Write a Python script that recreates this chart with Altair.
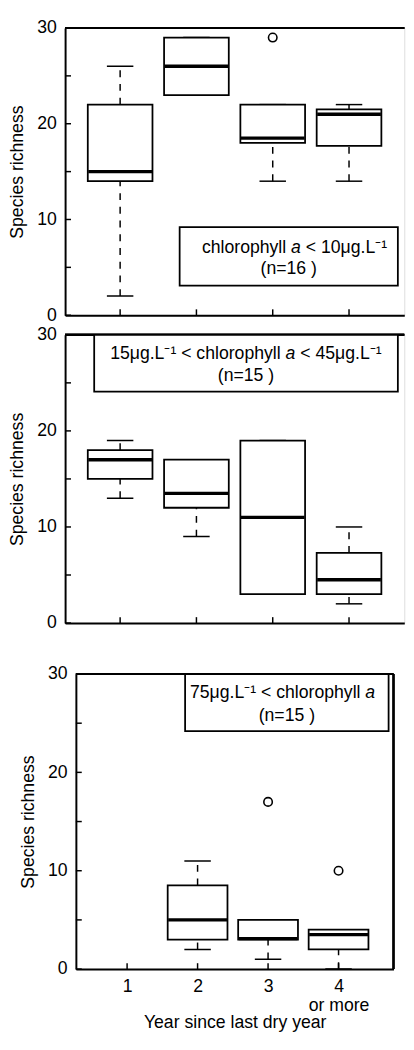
import altair as alt
import pandas as pd

FONT = "Liberation Sans"

# ---------------- data ----------------
years = [1, 2, 3, 4]
x_tick_years = [1, 2, 3, 4]
y_tick_values = [0, 5, 10, 15, 20, 25, 30]
y_label_values = [0, 10, 20, 30]

# Panel 1: chlorophyll a < 10 ug/L (n=16)
p1_years = [1, 2, 3, 4]
p1_low = [2, 23, 14, 14]
p1_q1 = [14, 23, 18, 17.7]
p1_med = [15, 26, 18.5, 21]
p1_q3 = [22, 29, 22, 21.5]
p1_high = [26, 29, 22, 22]
p1_out_year = [3]
p1_out_val = [29]

# Panel 2: 15 < chlorophyll a < 45 ug/L (n=15)
p2_years = [1, 2, 3, 4]
p2_low = [13, 9, 3, 2]
p2_q1 = [15, 12, 3, 3]
p2_med = [17, 13.5, 11, 4.5]
p2_q3 = [18, 17, 19, 7.3]
p2_high = [19, 17, 19, 10]
p2_out_year = []
p2_out_val = []

# Panel 3: 75 ug/L < chlorophyll a (n=15)
p3_years = [2, 3, 4]
p3_low = [2, 1, 0]
p3_q1 = [3, 3, 2]
p3_med = [5, 3.1, 3.5]
p3_q3 = [8.5, 5, 4]
p3_high = [11, 5, 4]
p3_out_year = [3, 4]
p3_out_val = [17, 10]

x_title = "Year since last dry year"
y_title = "Species richness"

# annotation boxes (data units)
notes = [
    dict(x1=1.78, x2=4.64, y1=3.1, y2=9.2, ax=3.305, l1y=7.0, l2y=4.8,
         left="chlorophyll", right="< 10μg.L⁻¹", n="(n=16 )"),
    dict(x1=0.66, x2=4.64, y1=24.1, y2=30, ax=3.232, l1y=27.96, l2y=25.73,
         left="15μg.L⁻¹ < chlorophyll", right="< 45μg.L⁻¹", n="(n=15 )"),
    dict(x1=1.823, x2=4.71, y1=24.2, y2=30, ax=4.45, l1y=28.05, l2y=25.72,
         left="75μg.L⁻¹ < chlorophyll", right="", n="(n=15 )"),
]


def panel(yrs, low, q1, med, q3, high, oyear, oval, note, width, height,
          box_w, xmax, last):
    stats = pd.DataFrame(dict(year=yrs, low=low, q1=q1, med=med, q3=q3, high=high))
    xs = alt.Scale(domain=[0.343, xmax], nice=False, zero=False)
    ys = alt.Scale(domain=[0, 30], nice=False, zero=False)

    yaxis = alt.Axis(values=y_label_values, ticks=False, grid=False,
                     domainColor="black", domainWidth=2, labelFlush=False,
                     labelFont=FONT, labelFontSize=18, labelColor="black",
                     labelPadding=9, title=y_title, titleFont=FONT,
                     titleFontSize=18, titleFontWeight="normal",
                     titleColor="black", titlePadding=10)
    if last:
        xaxis = alt.Axis(values=x_tick_years, ticks=False, grid=False,
                         domainColor="black", domainWidth=2,
                         labelFont=FONT, labelFontSize=18, labelColor="black",
                         labelPadding=9, labelLineHeight=19,
                         labelExpr="datum.value == 4 ? ['4', 'or more'] : datum.label",
                         title=x_title, titleFont=FONT, titleFontSize=18,
                         titleFontWeight="normal", titleColor="black",
                         titlePadding=0)
    else:
        xaxis = alt.Axis(values=x_tick_years, ticks=False, labels=False,
                         grid=False, domainColor="black", domainWidth=2,
                         title=None)

    X = alt.X("year:Q", scale=xs, axis=xaxis)

    def Y(f):
        return alt.Y(f, type="quantitative", scale=ys, axis=yaxis)

    base = alt.Chart(stats)
    layers = []

    # frame top (and right for the last panel)
    layers.append(alt.Chart(stats).mark_rule(color="black", strokeWidth=2)
                  .encode(y=alt.value(0)))
    if last:
        layers.append(alt.Chart(stats).mark_rule(color="black", strokeWidth=2)
                      .encode(x=alt.value(width)))

    # inward ticks
    ytk = pd.DataFrame(dict(v=y_tick_values))
    layers.append(alt.Chart(ytk).mark_rule(color="black", strokeWidth=1.5)
                  .encode(y=Y("v"), x=alt.value(0), x2=alt.value(6)))
    xtk = pd.DataFrame(dict(year=x_tick_years))
    layers.append(alt.Chart(xtk).mark_rule(color="black", strokeWidth=1.5)
                  .encode(x=X, y=alt.value(height), y2=alt.value(height - 6)))

    # whiskers
    dash = [7, 7]
    layers.append(base.mark_rule(color="black", strokeWidth=1.5, strokeDash=dash)
                  .encode(x=X, y=Y("q3"), y2="high"))
    layers.append(base.mark_rule(color="black", strokeWidth=1.5, strokeDash=dash)
                  .encode(x=X, y=Y("low"), y2="q1"))
    layers.append(base.mark_tick(orient="horizontal", size=27, thickness=1.5,
                                 color="black", opacity=1)
                  .encode(x=X, y=Y("high")))
    layers.append(base.mark_tick(orient="horizontal", size=27, thickness=1.5,
                                 color="black", opacity=1)
                  .encode(x=X, y=Y("low")))
    # boxes
    layers.append(base.mark_bar(size=box_w, fill="white", stroke="black",
                                strokeWidth=1.8)
                  .encode(x=X, y=Y("q1"), y2="q3"))
    # medians
    layers.append(base.mark_tick(orient="horizontal", size=box_w - 1,
                                 thickness=3.5, color="black", opacity=1)
                  .encode(x=X, y=Y("med")))
    # outliers
    if oyear:
        outs = pd.DataFrame(dict(year=oyear, val=oval))
        layers.append(alt.Chart(outs).mark_point(shape="circle", size=75,
                                                 filled=False, color="black",
                                                 strokeWidth=1.6, opacity=1)
                      .encode(x=X, y=Y("val")))

    # annotation box
    nd = pd.DataFrame([note])
    layers.append(alt.Chart(nd).mark_rect(fill="white", stroke="black",
                                          strokeWidth=1.8)
                  .encode(x=alt.X("x1:Q", scale=xs, axis=xaxis), x2="x2",
                          y=Y("y1"), y2="y2"))
    tkw = dict(font=FONT, fontSize=18, color="black", baseline="middle")
    layers.append(alt.Chart(nd).mark_text(align="right", dx=-10, **tkw)
                  .encode(x=alt.X("ax:Q", scale=xs, axis=xaxis), y=Y("l1y"),
                          text="left:N"))
    layers.append(alt.Chart(nd).mark_text(align="center", fontStyle="italic", **tkw)
                  .encode(x=alt.X("ax:Q", scale=xs, axis=xaxis), y=Y("l1y"),
                          text=alt.value("a")))
    if note["right"]:
        layers.append(alt.Chart(nd).mark_text(align="left", dx=10, **tkw)
                      .encode(x=alt.X("ax:Q", scale=xs, axis=xaxis), y=Y("l1y"),
                              text="right:N"))
    nd2 = nd.assign(cx=(nd["x1"] + nd["x2"]) / 2)
    layers.append(alt.Chart(nd2).mark_text(align="center", **tkw)
                  .encode(x=alt.X("cx:Q", scale=xs, axis=xaxis), y=Y("l2y"),
                          text="n:N"))

    return alt.layer(*layers).properties(width=width, height=height)


c1 = panel(p1_years, p1_low, p1_q1, p1_med, p1_q3, p1_high, p1_out_year,
           p1_out_val, notes[0], 346, 293, 66, 4.66, False)
c2 = panel(p2_years, p2_low, p2_q1, p2_med, p2_q3, p2_high, p2_out_year,
           p2_out_val, notes[1], 346, 294, 66, 4.66, False)
c3 = panel(p3_years, p3_low, p3_q1, p3_med, p3_q3, p3_high, p3_out_year,
           p3_out_val, notes[2], 324, 301, 61, 4.71, True)

top = alt.vconcat(c1, c2, spacing=0)
chart = (alt.vconcat(top, c3, spacing=32, center=True)
         .properties(padding={"left": 0, "top": 0, "right": 0, "bottom": 0})
         .configure_view(stroke=None)
         .configure(font=FONT))

chart.save("out.html", embed_options={"renderer": "svg", "actions": False})
